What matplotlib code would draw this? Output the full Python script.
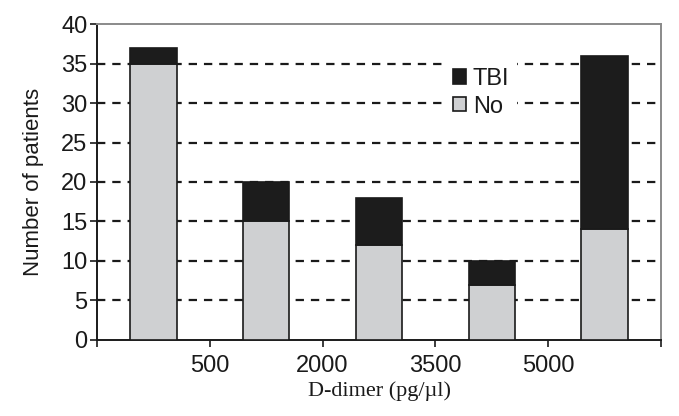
import matplotlib
matplotlib.use("Agg")
import matplotlib.pyplot as plt
import numpy as np

plt.rcParams['lines.scale_dashes'] = False

bins = ["<500", "500-2000", "2000-3500", "3500-5000", ">5000"]
tick_labels = ["", "500", "2000", "3500", "5000", ""]
no_tbi = [35, 15, 12, 7, 14]
tbi = [2, 5, 6, 3, 22]

fig = plt.figure(figsize=(6.79, 4.16), dpi=100)
ax = fig.add_axes([0.1429, 0.1827, 0.9735 - 0.1429, 0.9423 - 0.1827])

x = np.arange(len(bins)) + 0.5
w = 0.41
b1 = ax.bar(x, no_tbi, width=w, color="#cfd0d2", edgecolor="#1a1a1a", linewidth=1.2, zorder=3, label="No")
b2 = ax.bar(x, tbi, width=w, bottom=no_tbi, color="#1c1c1c", edgecolor="#1a1a1a", linewidth=1.2, zorder=3, label="TBI")

ax.set_xlim(0, 5)
ax.set_ylim(0, 40)
ax.set_xticks(np.arange(6))
ax.set_xticklabels(tick_labels)
ax.set_yticks(np.arange(0, 41, 5))

for yv in range(5, 40, 5):
    ax.axhline(yv, color="#1a1a1a", linewidth=1.6, dashes=(6, 5), zorder=1)

for s in ["left", "bottom"]:
    ax.spines[s].set_color("#1a1a1a")
    ax.spines[s].set_linewidth(1.4)
for s in ["top", "right"]:
    ax.spines[s].set_color("#8a8a8a")
    ax.spines[s].set_linewidth(1.4)

ax.tick_params(axis="both", direction="out", length=5, width=1.2, color="#1a1a1a",
               labelsize=17, labelcolor="#1a1a1a", pad=2)
ax.tick_params(axis="x", pad=6)
for lab in ax.get_xticklabels() + ax.get_yticklabels():
    lab.set_family("Liberation Sans")

ax.set_ylabel("Number of patients", fontsize=16, family="Liberation Sans", color="#1a1a1a", labelpad=12)
ax.set_xlabel("D-dimer (pg/\u00b5l)", fontsize=16, family="Liberation Serif", color="#1a1a1a", labelpad=3)

leg = ax.legend([b2, b1], ["TBI", "No"], loc="upper left", bbox_to_anchor=(0.595, 0.925),
                frameon=True, facecolor="white", edgecolor="none", framealpha=1,
                fancybox=False, handlelength=0.55, handleheight=0.55, handletextpad=0.3,
                labelspacing=0.25, borderpad=0.35,
                prop={"family": "Liberation Sans", "size": 17})
leg.set_zorder(5)
for t in leg.get_texts():
    t.set_color("#1a1a1a")

fig.savefig("out.png", dpi=100)
